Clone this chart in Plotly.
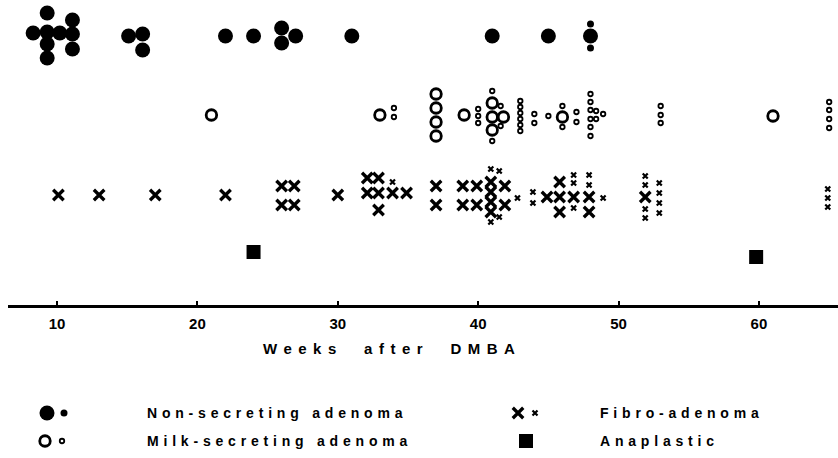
import plotly.graph_objects as go

# ---------------- data (weeks after DMBA, marker size class, vertical stack offset) -------------
ns_weeks = [8.3, 9.3, 9.3, 9.3, 9.3, 10.2, 11.1, 11.1, 11.1, 15.1, 16.1, 16.1, 22.0, 24.0,
            26.0, 26.0, 27.0, 31.0, 41.0, 45.0, 48.0, 48.0, 48.0]
ns_size = ["L"] * 20 + ["L", "S", "S"]
ns_stack = [-3, -23, -4, 8, 22, -3, -16, -2, 13, 0, -2, 14, 0, 0,
            -8, 7, 0, 0, 0, 0, 0, -12, 12]

ms_weeks = [21.0, 33.0, 34.0, 34.0, 37.0, 37.0, 37.0, 37.0, 39.0, 40.0, 40.0, 40.0,
            41.0, 41.0, 41.0, 41.0, 41.0, 41.6, 41.6, 41.8,
            43.0, 43.0, 43.0, 43.0, 43.0, 43.0, 44.0, 44.0, 45.0, 46.0, 46.0, 46.0, 47.0, 47.0,
            48.0, 48.0, 48.0, 48.0, 48.0, 48.0, 48.4, 48.4, 48.9, 53.0, 53.0, 53.0, 61.0,
            65.0, 65.0, 65.0, 65.0]
ms_size = ["L", "L", "S", "S", "L", "L", "L", "L", "L", "S", "S", "S",
           "L", "L", "L", "S", "S", "S", "S", "L",
           "S", "S", "S", "S", "S", "S", "S", "S", "S", "S", "L", "S", "S", "S",
           "S", "S", "S", "S", "S", "S", "S", "S", "S", "S", "S", "S", "L",
           "S", "S", "S", "S"]
ms_stack = [0, 0, -7, 2, -21, -7, 7, 21, 0, -6, 1, 8,
            -12, 2, 15, -24, 26, -9, 11, 2,
            -14, -8, -2, 4, 10, 16, -1, 8, 1, -9, 2, 12, -3, 7,
            -21, -13, -5, 4, 12, 21, -4, 4, -1, -9, 0, 8, 1,
            -13, -5, 4, 13]

fa_weeks = [10.1, 13.0, 17.0, 22.0, 26.0, 26.0, 26.9, 26.9, 30.0,
            32.1, 32.1, 32.9, 32.9, 32.9, 33.9, 33.9, 34.9, 37.0, 37.0,
            38.9, 38.9, 39.9, 39.9, 40.9, 40.9, 40.9, 40.9, 40.9, 40.9, 41.5, 41.5,
            41.9, 41.9, 42.8, 43.9, 43.9, 44.9, 45.8, 45.8, 45.8,
            46.8, 46.8, 46.8, 46.8, 47.9, 47.9, 47.9, 47.9, 48.9,
            51.9, 51.9, 51.9, 51.9, 51.9, 52.9, 52.9, 52.9, 52.9, 64.9, 64.9, 64.9]
fa_size = ["L", "L", "L", "L", "L", "L", "L", "L", "L",
           "L", "L", "L", "L", "L", "S", "L", "L", "L", "L",
           "L", "L", "L", "L", "S", "L", "L", "L", "L", "S", "S", "S",
           "L", "L", "S", "S", "S", "L", "L", "L", "L",
           "S", "S", "L", "S", "S", "S", "L", "L", "S",
           "S", "S", "L", "S", "S", "S", "S", "S", "S", "S", "S", "S"]
fa_stack = [0, 0, 0, 0, -9, 10, -9, 10, 0,
            -17, -2, -17, -2, 15, -13, -2, -2, -9, 10,
            -9, 10, -9, 10, -26, -13, -3, 7, 17, 27, -24, 22,
            -9, 10, 3, -3, 8, 2, -13, 2, 17,
            -20, -12, 2, 13, -20, -10, 2, 17, 3,
            -19, -10, 2, 14, 23, -12, -2, 8, 18, -6, 3, 12]

an_weeks = [24.0, 59.8]
an_stack = [-2, 3]

tick_vals = [10, 20, 30, 40, 50, 60]
tick_text = ["10", "20", "30", "40", "50", "60"]

# ---------------- layout helpers -------------
W, H = 838, 458
PLOT_L = 8                       # left end of the axis line
ROW_Y = {"ns": 36, "ms": 115, "fa": 195, "an": 254}
AXIS_Y = 306
X_RANGE = [6.51, 65.63]
FONT = "Liberation Sans"


def split(weeks, sizes, stack, base):
    out = {"L": ([], []), "S": ([], [])}
    for w, s, o in zip(weeks, sizes, stack):
        out[s][0].append(w)
        out[s][1].append(base + o)
    return out


def px_to_week(px):
    return X_RANGE[0] + (px - PLOT_L) / (W - PLOT_L) * (X_RANGE[1] - X_RANGE[0])


fig = go.Figure()

ns = split(ns_weeks, ns_size, ns_stack, ROW_Y["ns"])
ms = split(ms_weeks, ms_size, ms_stack, ROW_Y["ms"])
fa = split(fa_weeks, fa_size, fa_stack, ROW_Y["fa"])

styles = {
    ("ns", "L"): dict(symbol="circle", size=15, color="black", line=dict(width=0)),
    ("ns", "S"): dict(symbol="circle", size=7, color="black", line=dict(width=0)),
    ("ms", "L"): dict(symbol="circle-open", size=10.5, color="black", line=dict(width=2.8, color="black")),
    ("ms", "S"): dict(symbol="circle-open", size=4.5, color="black", line=dict(width=1.8, color="black")),
    ("fa", "L"): dict(symbol="x-thin-open", size=10.5, color="black", line=dict(width=3.3, color="black")),
    ("fa", "S"): dict(symbol="x-thin-open", size=5, color="black", line=dict(width=2.2, color="black")),
}

for key, d in (("ns", ns), ("ms", ms), ("fa", fa)):
    for sz in ("L", "S"):
        xs, ys = d[sz]
        if xs:
            fig.add_trace(go.Scatter(x=xs, y=ys, mode="markers", marker=styles[(key, sz)],
                                     showlegend=False, hoverinfo="skip", cliponaxis=False))

fig.add_trace(go.Scatter(x=an_weeks, y=[ROW_Y["an"] + o for o in an_stack], mode="markers",
                         marker=dict(symbol="square", size=14, color="black", line=dict(width=0)),
                         showlegend=False, hoverinfo="skip", cliponaxis=False))

# ---------------- legend (hand drawn below the axis) -------------
LEG_Y1, LEG_Y2 = 413, 441
leg_markers = [
    (47, LEG_Y1, styles[("ns", "L")]), (64, LEG_Y1, styles[("ns", "S")]),
    (45, LEG_Y2, styles[("ms", "L")]), (62, LEG_Y2, styles[("ms", "S")]),
    (518, LEG_Y1, styles[("fa", "L")]), (535, LEG_Y1, styles[("fa", "S")]),
    (526, LEG_Y2, dict(symbol="square", size=14, color="black", line=dict(width=0))),
]
for px, py, m in leg_markers:
    fig.add_trace(go.Scatter(x=[px_to_week(px)], y=[py], mode="markers", marker=m,
                             showlegend=False, hoverinfo="skip", cliponaxis=False))


def spaced(txt, ls, gap="\u00a0"):
    return '<span style="letter-spacing:%spx">%s</span>' % (ls, txt.replace(" ", gap))


leg_text = [
    (145, LEG_Y1, "Non-secreting adenoma"),
    (145, LEG_Y2, "Milk-secreting adenoma"),
    (598, LEG_Y1, "Fibro-adenoma"),
    (598, LEG_Y2, "Anaplastic"),
]
for px, py, t in leg_text:
    fig.add_annotation(x=px_to_week(px), y=py, xref="x", yref="y", text=spaced(t, 4.8),
                       showarrow=False, xanchor="left", yanchor="middle",
                       font=dict(family=FONT, size=14, color="black", weight="bold"))

fig.add_annotation(x=px_to_week(392), y=348, xref="x", yref="y",
                   text=spaced("Weeks after DMBA", 6.5, "\u00a0\u00a0"),
                   showarrow=False, xanchor="center", yanchor="middle",
                   font=dict(family=FONT, size=15, color="black", weight="bold"))

fig.update_layout(
    width=W, height=H,
    margin=dict(l=PLOT_L, r=0, t=0, b=0),
    paper_bgcolor="white", plot_bgcolor="white",
    hovermode=False,
    xaxis=dict(range=X_RANGE, tickvals=tick_vals, ticktext=tick_text, ticks="inside",
               anchor="free", position=1 - AXIS_Y / H,
               ticklen=4, tickwidth=2, tickcolor="black", showline=True, linecolor="black",
               linewidth=2.5, showgrid=False, zeroline=False, ticklabelstandoff=3,
               tickfont=dict(family=FONT, size=15, color="black", weight="bold")),
    yaxis=dict(range=[H, 0], visible=False, showgrid=False, zeroline=False),
)

# remove the browser's default page margin so the figure sits at the window origin
fig.write_html("out.html", config={"displayModeBar": False},
               post_script="document.body.style.margin='0';")
